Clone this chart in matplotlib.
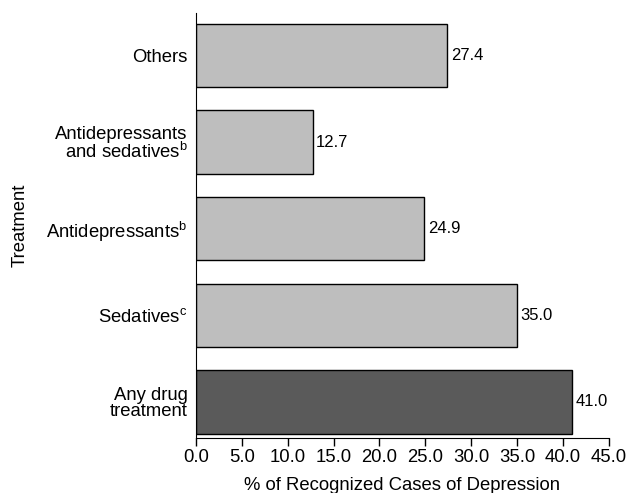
import matplotlib
matplotlib.use('Agg')
import matplotlib.pyplot as plt

plt.rcParams['font.family'] = ['Liberation Sans', 'DejaVu Sans']
plt.rcParams['mathtext.fontset'] = 'custom'
plt.rcParams['mathtext.rm'] = 'Liberation Sans'

# bottom to top
treatments = ['Any drug\ntreatment', 'Sedatives$^\\mathrm{c}$', 'Antidepressants$^\\mathrm{b}$',
              'Antidepressants\nand sedatives$^\\mathrm{b}$', 'Others']
values = [41.0, 35.0, 24.9, 12.7, 27.4]
colors = ['#5a5a5a', '#bebebe', '#bebebe', '#bebebe', '#bebebe']
xticks = [0, 5, 10, 15, 20, 25, 30, 35, 40, 45]

fs = 13.3

fig = plt.figure(figsize=(6.29, 4.93), dpi=100)
ax = fig.add_axes([0.3116, 0.1116, 0.6564, 0.862])

pos = list(range(len(values)))
ax.barh(pos, values, height=0.73, color=colors, edgecolor='black', linewidth=1)

for p, v in zip(pos, values):
    ax.text(v + 0.4, p, '%.1f' % v, va='center', ha='left', fontsize=12)

ax.set_yticks(pos)
ax.set_yticklabels(treatments, fontsize=fs, linespacing=0.95)
ax.set_xticks(xticks)
ax.set_xticklabels(['%.1f' % t for t in xticks], fontsize=fs)
ax.set_xlim(0, 45)
ax.set_ylim(-0.416, 4.49)

ax.tick_params(axis='y', length=0, pad=6)
ax.tick_params(axis='x', length=6, width=1, direction='out', pad=2)

ax.spines['top'].set_visible(False)
ax.spines['right'].set_visible(False)

ax.set_xlabel('% of Recognized Cases of Depression', fontsize=fs, labelpad=8)
ax.set_ylabel('Treatment', fontsize=fs)
ax.yaxis.set_label_coords(-0.405, 0.5)

fig.savefig('out.png', dpi=100)
